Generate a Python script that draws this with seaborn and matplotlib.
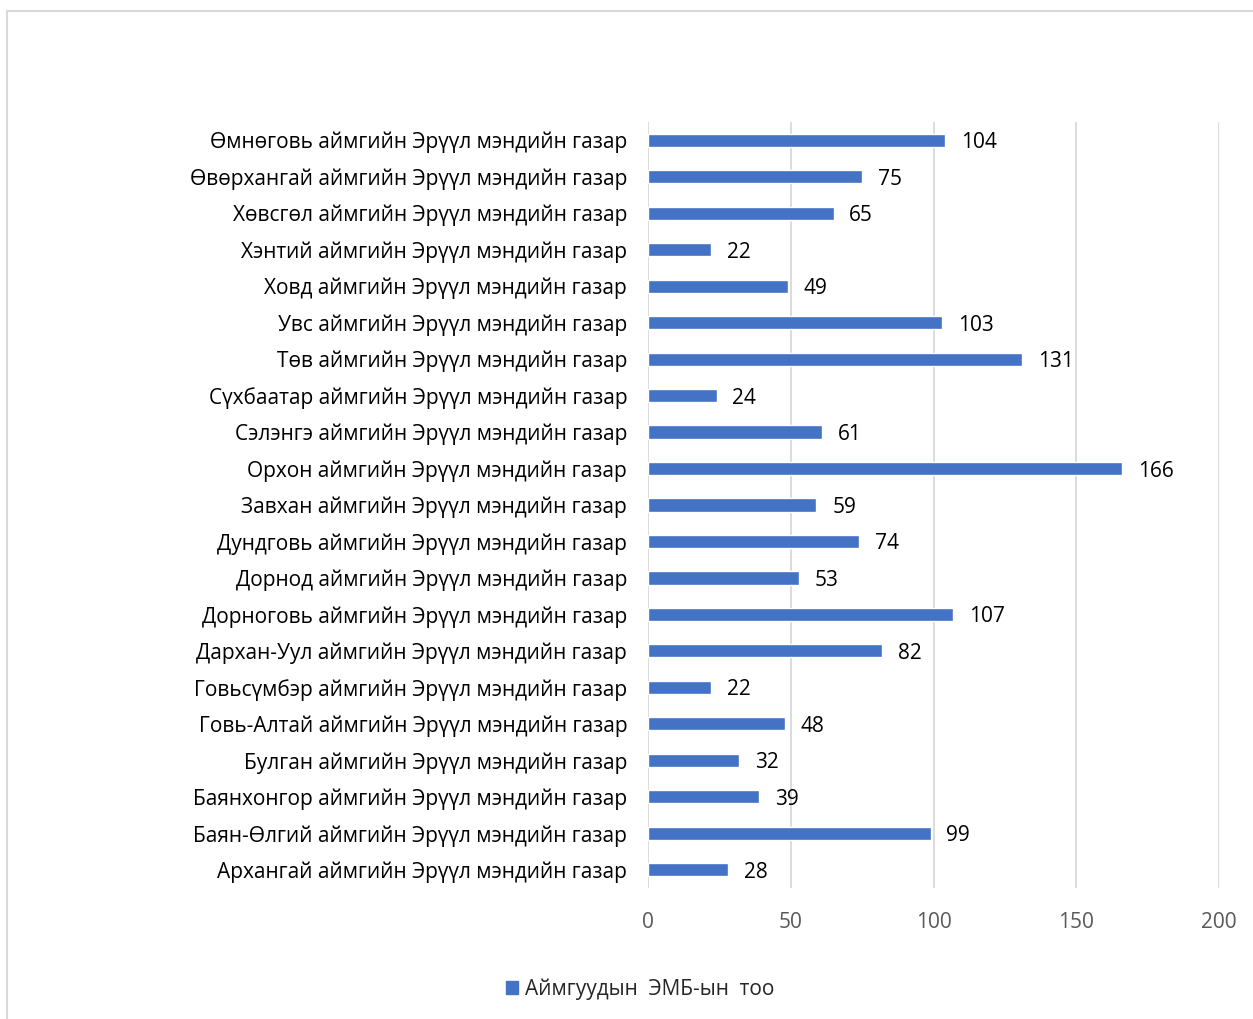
import matplotlib
matplotlib.use("Agg")
import matplotlib.pyplot as plt
import seaborn as sns
import pandas as pd
from matplotlib.patches import Rectangle

# top to bottom order as shown in the chart
departments = [
    "Өмнөговь аймгийн Эрүүл мэндийн газар",
    "Өвөрхангай аймгийн Эрүүл мэндийн газар",
    "Хөвсгөл аймгийн Эрүүл мэндийн газар",
    "Хэнтий аймгийн Эрүүл мэндийн газар",
    "Ховд аймгийн Эрүүл мэндийн газар",
    "Увс аймгийн Эрүүл мэндийн газар",
    "Төв аймгийн Эрүүл мэндийн газар",
    "Сүхбаатар аймгийн Эрүүл мэндийн газар",
    "Сэлэнгэ аймгийн Эрүүл мэндийн газар",
    "Орхон аймгийн Эрүүл мэндийн газар",
    "Завхан аймгийн Эрүүл мэндийн газар",
    "Дундговь аймгийн Эрүүл мэндийн газар",
    "Дорнод аймгийн Эрүүл мэндийн газар",
    "Дорноговь аймгийн Эрүүл мэндийн газар",
    "Дархан-Уул аймгийн Эрүүл мэндийн газар",
    "Говьсүмбэр аймгийн Эрүүл мэндийн газар",
    "Говь-Алтай аймгийн Эрүүл мэндийн газар",
    "Булган аймгийн Эрүүл мэндийн газар",
    "Баянхонгор аймгийн Эрүүл мэндийн газар",
    "Баян-Өлгий аймгийн Эрүүл мэндийн газар",
    "Архангай аймгийн Эрүүл мэндийн газар",
]
counts = [104, 75, 65, 22, 49, 103, 131, 24, 61, 166, 59, 74, 53, 107, 82, 22, 48, 32, 39, 99, 28]
x_ticks = [0, 50, 100, 150, 200]
series_name = "Аймгуудын  ЭМБ-ын  тоо"

bar_color = "#4472C4"
font = ["Open Sans", "DejaVu Sans"]
fs = 15

sns.set_style("white")
plt.rcParams["font.family"] = font

df = pd.DataFrame({"dept": departments, "count": counts})

fig = plt.figure(figsize=(12.53, 10.19), dpi=100)
ax = fig.add_axes([648 / 1253, 1 - 888 / 1019, 571 / 1253, 766 / 1019])

sns.barplot(data=df, x="count", y="dept", orient="h", color=bar_color,
            width=0.36, saturation=1, ax=ax, zorder=3)

ax.set_xlim(0, 200)
ax.set_ylim(len(departments) - 0.5, -0.5)
ax.set_xticks(x_ticks)
ax.xaxis.grid(True, color="#D9D9D9", linewidth=1.3, zorder=0)
ax.yaxis.grid(False)
for s in ax.spines.values():
    s.set_visible(False)
ax.set_xlabel("")
ax.set_ylabel("")
ax.tick_params(axis="x", length=0, pad=17, labelsize=fs, labelcolor="#595959")
ax.tick_params(axis="y", length=0, pad=15, labelsize=fs, labelcolor="#000000")

for i, v in enumerate(counts):
    ax.text(v + 5.5, i, str(v), va="center_baseline", ha="left", fontsize=fs, color="#000000")

# legend at the bottom
handle = Rectangle((0, 0), 1, 1, color=bar_color)
fig.legend([handle], [series_name], loc="center", bbox_to_anchor=(640 / 1253, 1 - 989 / 1019),
           frameon=False, fontsize=fs, handlelength=0.6, handleheight=0.6, handletextpad=0.3)

# light chart border
border = Rectangle((7 / 1253, -0.05), 1.1, 1 - 11 / 1019 + 0.05, transform=fig.transFigure,
                   fill=False, edgecolor="#D9D9D9", linewidth=1.5)
fig.patches.append(border)

fig.savefig("out.png", dpi=100)
